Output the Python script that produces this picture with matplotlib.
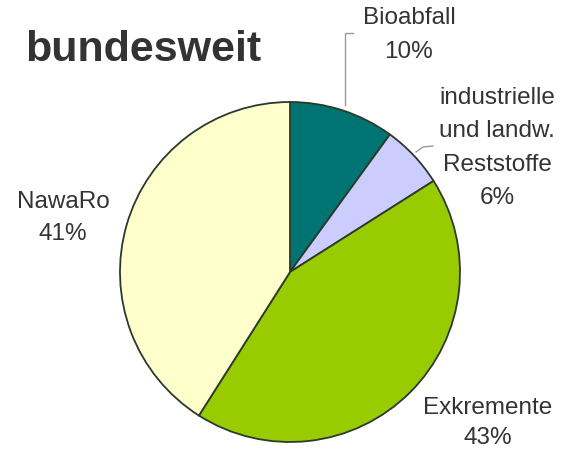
import matplotlib
matplotlib.use("Agg")
import matplotlib.pyplot as plt

# data
labels = ["Bioabfall", "industrielle\nund landw.\nReststoffe", "Exkremente", "NawaRo"]
shares = [10, 6, 43, 41]
colors = ["#007373", "#ccccff", "#99cc00", "#ffffcc"]
title = "bundesweit"


def main():
    plt.rcParams['font.family'] = ['Liberation Sans', 'DejaVu Sans']
    fig = plt.figure(figsize=(5.64, 4.55), dpi=100)
    ax = fig.add_axes([0, 0, 1, 1])

    ax.pie(shares, colors=colors, startangle=90, counterclock=False,
           center=(290, 183), radius=170, frame=True,
           wedgeprops=dict(edgecolor='#2b3a2b', linewidth=1.3))
    ax.set_xlim(0, 564)
    ax.set_ylim(0, 455)
    ax.set_aspect('equal')
    ax.axis('off')

    # label positions (pixel coords, y from bottom)
    pos = [(409, 420), (497, 307), (488, 32), (63, 237)]
    spacing = [1.7, 1.65, 1.45, 1.55]
    for lab, val, (x, y), ls in zip(labels, shares, pos, spacing):
        ax.text(x, y, '{}\n{}%'.format(lab, val), ha='center', va='center',
                fontsize=17.5, color='#333333', linespacing=ls)

    # leader lines
    ax.plot([353, 345, 345], [422, 422, 350], color='#999999', lw=1)
    ax.plot([433, 423, 416], [309, 308, 303], color='#999999', lw=1)

    ax.text(25, 405, title, fontsize=31, fontweight='bold', color='#333333',
            ha='left', va='center')

    fig.savefig('out.png', dpi=100)


if __name__ == '__main__':
    main()
